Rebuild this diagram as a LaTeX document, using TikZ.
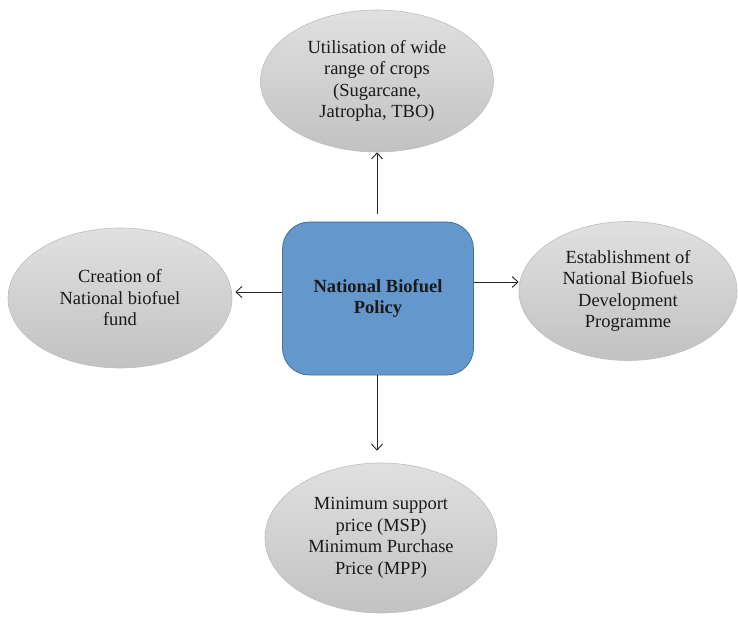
\documentclass[tikz,border=0pt]{standalone}
\usepackage{fontspec}
\setmainfont{Liberation Serif}
\usetikzlibrary{shapes.geometric,arrows.meta}

\definecolor{boxfill}{RGB}{100,151,203}
\definecolor{boxline}{RGB}{65,113,156}
\definecolor{ovaltop}{RGB}{224,224,224}
\definecolor{ovalbot}{RGB}{194,194,194}
\definecolor{ovalline}{RGB}{190,190,190}
\definecolor{inktext}{RGB}{26,26,26}

\tikzset{
  policybox/.style={draw=boxline, line width=0.8pt, fill=boxfill,
    rounded corners=27pt, minimum width=191pt, minimum height=153pt,
    align=center, inner sep=0pt, text=inktext,
    font=\fontsize{18.5}{21.5}\selectfont\bfseries},
  oval/.style={ellipse, draw=ovalline, line width=0.6pt,
    top color=ovaltop, bottom color=ovalbot,
    align=center, inner sep=0pt, text=inktext,
    font=\fontsize{18.5}{21.5}\selectfont},
  arr/.style={-{Straight Barb[length=6pt,width=11pt]}, line width=0.9pt, draw=black!85},
}

\begin{document}
\begin{tikzpicture}[x=1pt,y=-1pt]
  \useasboundingbox (0,0) rectangle (738,617);

  % central policy box
  \node[policybox] (policy) at (378,298.5) {National Biofuel\\Policy};

  % surrounding outcomes
  \node[oval, minimum width=233pt, minimum height=142pt] (crops) at (377,81)
    {Utilisation of wide\\range of crops\\(Sugarcane,\\Jatropha, TBO)};
  \node[oval, minimum width=224pt, minimum height=140pt] (fund) at (120,298)
    {Creation of\\National biofuel\\fund};
  \node[oval, minimum width=218pt, minimum height=139pt] (estab) at (628,291)
    {Establishment of\\National Biofuels\\Development\\Programme};
  \node[oval, minimum width=232pt, minimum height=150pt] (msp) at (381,538)
    {Minimum support\\price (MSP)\\Minimum Purchase\\Price (MPP)};

  % connectors
  \draw[arr] ([xshift=-1pt,yshift=8pt]policy.north) -- (crops.south);
  \draw[arr] ([yshift=6.5pt]policy.west) -- ([xshift=3pt,yshift=6pt]fund.east);
  \draw[arr] ([yshift=16.5pt]policy.east) -- ([yshift=9pt]estab.west);
  \draw[arr] ([xshift=-1pt]policy.south) -- ([xshift=-4pt,yshift=12pt]msp.north);
\end{tikzpicture}
\end{document}
